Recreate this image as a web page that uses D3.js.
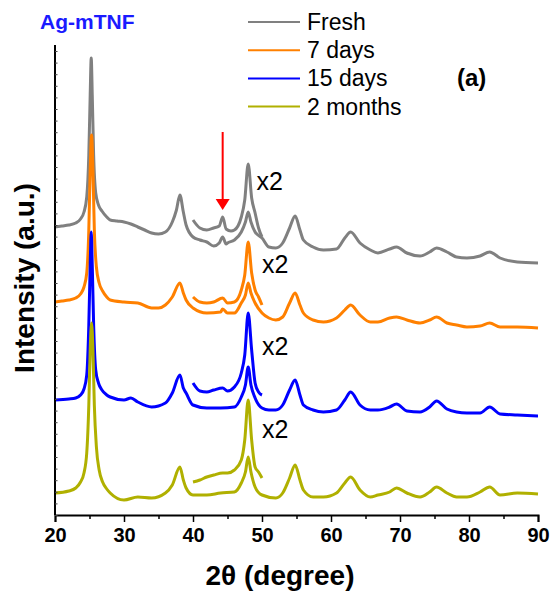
<!DOCTYPE html>
<html>
<head>
<meta charset="utf-8">
<script src="https://cdn.jsdelivr.net/npm/d3@7"></script>
<style>
  html, body { margin: 0; padding: 0; background: #fff; }
  svg { display: block; font-family: "Liberation Sans", Arial, sans-serif; }
</style>
</head>
<body>
<svg id="chart" width="553" height="595"></svg>
<script>
// ---- data (2θ in degrees, intensity in arbitrary units, stacked with offsets as in the figure) ----
const seriesNames = ["Fresh", "7 days", "15 days", "2 months"];
const seriesColors = ["#808080", "#ff8000", "#0000ff", "#b0b000"];
const xTickValues = [20, 30, 40, 50, 60, 70, 80, 90];

const freshMain = [[20,288],[21,289],[22,290],[23,292],[23.7,296],[24.2,303],[24.6,318],[24.9,360],[25.1,420],[25.25,457],[25.4,420],[25.6,360],[25.9,322],[26.3,310],[26.8,304],[27.5,298],[28,295],[29,294],[30,293],[31,291],[32,288],[33,285],[34,282],[35,281],[36,283],[37,293],[37.6,305],[38.1,320],[38.6,303],[39,290],[40,278],[41,275],[42,273],[43,269],[43.8,272],[44.3,278],[44.8,271],[45,272],[46,275],[47,283],[47.6,293],[48.0,303],[48.4,293],[49,283],[50,277],[51,268],[52,267],[53,272],[54,287],[54.8,299],[55.5,285],[56,275],[57.4,268],[58.9,265],[60.8,266],[62,277],[62.85,283],[64.2,272],[65.7,265],[66.8,262],[68.5,266],[69.5,268],[71,262],[72.9,259],[74.3,263],[75.3,267],[76.8,263],[78.2,258],[79.7,257],[81.6,259],[83,263],[84.5,257],[87,253],[90,252]];
const freshX2 = [[40,295],[41,287],[42,285],[43,287],[43.8,289],[44.3,298],[44.8,286],[45.5,284],[46,285],[47,298],[47.5,315],[48.0,351],[48.5,317],[49,302],[49.5,287],[50,278]];

const days7Main = [[20,213],[21,214],[22,215],[23,217],[23.7,221],[24.2,228],[24.6,242],[24.9,285],[25.1,345],[25.3,380],[25.5,345],[25.7,285],[26.0,248],[26.4,232],[26.9,224],[27.5,218],[28,215],[30,213],[32,212],[34,207],[35,207],[36,210],[37,218],[38.1,232],[38.6,222],[39,215],[40,207],[42,202],[44,203],[44.3,206],[45,202],[46,202],[47,212],[47.6,220],[48.0,232],[48.4,222],[49,212],[50,202],[51,197],[52,195],[53,198],[54,212],[54.8,222],[55.5,210],[56,202],[57.4,195],[58.9,193],[60.8,197],[62,205],[62.85,210],[64.2,200],[65.7,193],[66.8,193],[68.5,197],[69.5,198],[71,195],[72.9,192],[74.3,195],[75.3,198],[76.8,192],[78.2,190],[79.7,188],[81.6,189],[83,192],[84.5,188],[87,188],[90,187]];
const days7X2 = [[40,218],[41,213],[42,212],[43,213],[44.3,217],[45,212],[46,213],[47,225],[47.5,240],[48.0,273],[48.5,242],[49,225],[49.5,218],[50,210]];

const days15Main = [[20,115],[22,116],[23,117],[23.7,120],[24.2,126],[24.6,140],[24.9,190],[25.1,250],[25.25,283],[25.4,250],[25.6,190],[25.9,145],[26.3,132],[26.8,125],[27.5,120],[28,118],[30,115],[31,117],[32,113],[34,108],[36,112],[37,122],[38.1,140],[38.6,127],[39,122],[40,110],[42,107],[44,107],[46,108],[47,118],[47.6,130],[48.0,148],[48.4,130],[49,117],[50,107],[51,105],[52,105],[53,110],[54,125],[54.8,135],[55.5,120],[56,110],[57.4,105],[58.9,103],[60.8,105],[62,115],[62.85,123],[64.2,110],[65.7,105],[66.8,105],[68.5,108],[69.5,111],[71,104],[72.9,103],[74.3,108],[75.3,114],[76.8,106],[78.2,103],[79.7,102],[81.6,102],[83,108],[84.5,101],[87,100],[90,99]];
const days15X2 = [[40,132],[41,124],[42,123],[43,125],[44.3,127],[45,124],[46,128],[47,142],[47.5,160],[48.0,202],[48.5,165],[49,132],[49.5,123],[50,120]];

const months2Main = [[20,22],[22,24],[23,27],[23.7,33],[24.2,42],[24.6,62],[24.9,110],[25.1,165],[25.3,192],[25.5,165],[25.7,110],[26.0,68],[26.4,45],[26.9,33],[27.5,26],[28,22],[30,15],[32,18],[34,17],[36,22],[37,30],[38.1,48],[38.6,35],[39,27],[40,20],[42,20],[44,22],[46,23],[47,32],[47.6,43],[48.0,58],[48.4,43],[49,28],[50,20],[52,17],[53,22],[54,37],[54.8,50],[55.5,35],[56,25],[57.4,18],[58.9,18],[60.8,22],[62,32],[62.85,38],[64.2,25],[65.7,18],[66.8,20],[68.5,23],[69.5,27],[71,22],[72.9,18],[74.3,23],[75.3,28],[76.8,22],[78.2,18],[79.7,18],[81.6,23],[83,28],[84.5,20],[87,22],[90,21]];
const months2X2 = [[40,33],[41,35],[42,38],[43,40],[44.3,42],[45,42],[46,45],[47,55],[47.5,75],[48.0,115],[48.5,75],[49,48],[49.5,43],[50,37]];

const mainSeries = [freshMain, days7Main, days15Main, months2Main];
const x2Series = [freshX2, days7X2, days15X2, months2X2];
const x2LabelAnchors = [[49.2, 325], [50.0, 242], [50.0, 160], [50.0, 77]];
const arrowAt = { x: 44.3, yTop: 383, yTip: 305 };

// ---- layout ----
const svg = d3.select("#chart");
const plotLeft = 55, plotRight = 538, plotTop = 45, plotBottom = 515;

const x = d3.scaleLinear().domain([20, 90]).range([plotLeft, plotRight]);
const y = d3.scaleLinear().domain([0, 470]).range([plotBottom, plotTop]);

// lines
const line = d3.line().x(d => x(d[0])).y(d => y(d[1])).curve(d3.curveMonotoneX);
const gLines = svg.append("g");
mainSeries.forEach((s, i) => {
  gLines.append("path").datum(s).attr("d", line)
    .attr("fill", "none").attr("stroke", seriesColors[i])
    .attr("stroke-width", 3).attr("stroke-linejoin", "round");
});
x2Series.forEach((s, i) => {
  gLines.append("path").datum(s).attr("d", line)
    .attr("fill", "none").attr("stroke", seriesColors[i])
    .attr("stroke-width", 3).attr("stroke-linejoin", "round");
});

// x2 labels
x2LabelAnchors.forEach(a => {
  svg.append("text").attr("x", x(a[0])).attr("y", y(a[1]))
    .attr("font-size", 25).attr("fill", "#000").text("x2");
});

// red arrow
svg.append("line")
  .attr("x1", x(arrowAt.x)).attr("x2", x(arrowAt.x))
  .attr("y1", y(arrowAt.yTop)).attr("y2", y(arrowAt.yTip) - 8)
  .attr("stroke", "#ff0000").attr("stroke-width", 2);
svg.append("path")
  .attr("d", `M${x(arrowAt.x) - 7},${y(arrowAt.yTip) - 11} L${x(arrowAt.x) + 7},${y(arrowAt.yTip) - 11} L${x(arrowAt.x)},${y(arrowAt.yTip)} Z`)
  .attr("fill", "#ff0000");

// x axis
const xAxis = d3.axisBottom(x).tickValues(xTickValues).tickSize(7).tickPadding(6).tickFormat(d3.format("d"));
const gx = svg.append("g").attr("transform", `translate(0,${plotBottom})`).call(xAxis);
gx.select(".domain").attr("stroke", "#000").attr("stroke-width", 2);
gx.selectAll(".tick line").attr("stroke", "#000").attr("stroke-width", 1.5);
gx.selectAll(".tick text").attr("font-size", 20).attr("font-weight", "bold")
  .attr("font-family", "Liberation Sans, Arial, sans-serif").attr("fill", "#000");
// minor ticks
const xMinor = d3.axisBottom(x).tickValues(d3.range(25, 90, 10)).tickSize(4).tickFormat("");
const gxm = svg.append("g").attr("transform", `translate(0,${plotBottom})`).call(xMinor);
gxm.select(".domain").remove();
gxm.selectAll(".tick line").attr("stroke", "#000").attr("stroke-width", 1.5);

// y axis (no labels, small inner ticks)
const yAxis = d3.axisRight(y).tickValues(d3.range(0, 470, 11.6)).tickSize(2.5).tickFormat("");
const gy = svg.append("g").attr("transform", `translate(${plotLeft},0)`).call(yAxis);
gy.select(".domain").attr("stroke", "#000").attr("stroke-width", 2).attr("d", `M0,${plotTop}V${plotBottom}`);
gy.selectAll(".tick line").attr("stroke", "#444").attr("stroke-width", 1);

// axis titles
svg.append("text").attr("x", 280).attr("y", 585).attr("text-anchor", "middle")
  .attr("font-size", 28).attr("font-weight", "bold").text("2θ (degree)");
svg.append("text").attr("transform", "translate(34,278) rotate(-90)").attr("text-anchor", "middle")
  .attr("font-size", 28).attr("font-weight", "bold").text("Intensity (a.u.)");

// title tag
svg.append("text").attr("x", 40).attr("y", 29).attr("font-size", 21).attr("font-weight", "bold")
  .attr("fill", "#1a1aff").text("Ag-mTNF");
svg.append("text").attr("x", 457).attr("y", 86).attr("font-size", 24).attr("font-weight", "bold")
  .attr("fill", "#000").text("(a)");

// legend
const legend = svg.append("g");
seriesNames.forEach((name, i) => {
  const yy = 22 + i * 28.2;
  legend.append("line").attr("x1", 248).attr("x2", 300).attr("y1", yy).attr("y2", yy)
    .attr("stroke", seriesColors[i]).attr("stroke-width", 2);
  legend.append("text").attr("x", 307).attr("y", yy + 8).attr("font-size", 23).attr("fill", "#000").text(name);
});
</script>
</body>
</html>
